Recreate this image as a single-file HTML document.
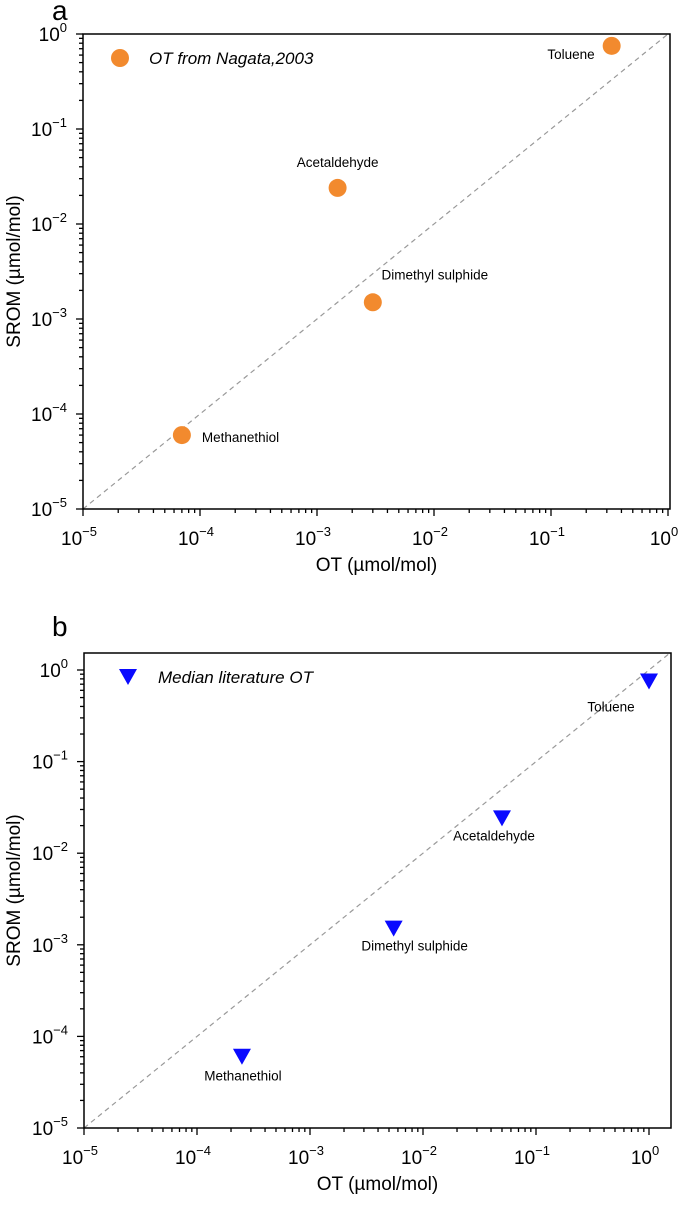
<!DOCTYPE html>
<html><head><meta charset="utf-8"><style>
html,body{margin:0;padding:0;background:#fff;}
svg{display:block;font-family:"Liberation Sans",Arial,sans-serif;}
</style></head><body>
<svg id="c" width="685" height="1208" xmlns="http://www.w3.org/2000/svg"></svg>
<script>
const compounds = ["Toluene","Acetaldehyde","Dimethyl sulphide","Methanethiol"];
const srom = [0.75, 0.024, 0.0015, 0.00006];
const otNagata = [0.33, 0.0015, 0.003, 0.00007];
const otMedian = [1.0, 0.05, 0.0055, 0.00025];
const tickExps = [-5,-4,-3,-2,-1,0];
// label offsets relative to marker [dx, dy, anchor]
const labA = [[-17,13,"end"],[0,-21,"middle"],[62,-23,"middle"],[20,7,"start"]];
const labB = [[-38,30,"middle"],[-8,22,"middle"],[21,22,"middle"],[1,24,"middle"]];

const svg = document.getElementById('c');
const NS = "http://www.w3.org/2000/svg";
function el(tag, attrs, parent){const e=document.createElementNS(NS,tag);for(const k in attrs)e.setAttribute(k,attrs[k]);(parent||svg).appendChild(e);return e;}

function panel(cfg){
  const g = el('g',{});
  
  
  const L=cfg.left, R=cfg.right, T=cfg.top, B=cfg.bottom;
  const x = v => cfg.x0 + (Math.log10(v)+5)*cfg.xd;
  const y = v => cfg.y0 - (Math.log10(v)+5)*cfg.yd;
  const d = el('line',{x1:x(1e-5),y1:y(1e-5),x2:x(cfg.maxv),y2:y(cfg.maxv),stroke:'#999','stroke-width':1.2,'stroke-dasharray':'5,4'},g);
  
  
  const f = el('rect',{x:L,y:T,width:R-L,height:B-T,fill:'none',stroke:'#000','stroke-width':1.5},g);
  
  
  for(let e=-5;e<=0;e++){
    for(let m=1;m<10;m++){
      const v=m*Math.pow(10,e);
      const major = m===1;
      const len = major?7:4;
      const px=x(v);
      if(px>=L-0.5 && px<=R+0.5) el('line',{x1:px,y1:B,x2:px,y2:B+len,stroke:'#000','stroke-width':1.3},g);
      const py=y(v);
      if(py<=B+0.5 && py>=T-0.5) el('line',{x1:L,y1:py,x2:L-len,y2:py,stroke:'#000','stroke-width':1.3},g);
    }
  }
  tickExps.forEach(e=>{
    const v=Math.pow(10,e);
    const tx = el('text',{x:x(v)-4,y:B+36,'font-size':19,'text-anchor':'middle'},g);
    
    
    tx.innerHTML='10<tspan dy="-9" font-size="13">'+(e<0?'\u2212'+(-e):e)+'</tspan>';
    const ty = el('text',{x:L-16,y:y(v)+7,'font-size':19,'text-anchor':'end'},g);
    
    
    ty.innerHTML='10<tspan dy="-9" font-size="13">'+(e<0?'\u2212'+(-e):e)+'</tspan>';
  });
  const xt = el('text',{x:(L+R)/2,y:B+62,'font-size':19,'text-anchor':'middle'},g);
  xt.textContent='OT (\u00b5mol/mol)';
  
  
  const yt = el('text',{x:0,y:0,'font-size':19,'text-anchor':'middle',transform:`translate(20,${(T+B)/2}) rotate(-90)`},g);
  yt.textContent='SROM (\u00b5mol/mol)';
  
  
  const pl = el('text',{x:cfg.letterX,y:cfg.letterY,'font-size':28},g);
  pl.textContent=cfg.letter;
  
  
  compounds.forEach((c,i)=>{
    const px=x(cfg.xs[i]), py=y(srom[i]);
    let m;
    if(cfg.marker==='circle') m=el('circle',{cx:px,cy:py,r:9,fill:'#f28a2e'},g);
    else m=el('polygon',{points:`${px-9},${py-8} ${px+9},${py-8} ${px},${py+8}`,fill:'#0a0aff'},g);
    
    
    const o=cfg.labs[i];
    const t=el('text',{x:px+o[0],y:py+o[1],'font-size':13.5,'text-anchor':o[2]},g);
    t.textContent=c;
    
    
  });
  let lm;
  if(cfg.marker==='circle') lm=el('circle',{cx:L+37,cy:T+24,r:9,fill:'#f28a2e'},g);
  else {const lx=L+44,ly=T+24; lm=el('polygon',{points:`${lx-9},${ly-8} ${lx+9},${ly-8} ${lx},${ly+8}`,fill:'#0a0aff'},g);}
  
  
  const lt=el('text',{x:L+cfg.legX,y:T+30,'font-size':17,'font-style':'italic'},g);
  lt.textContent=cfg.legend;
  
  
}

panel({name:'panel-a',left:83,right:670,top:34,bottom:509,x0:83,xd:117,y0:509,yd:95,maxv:1,
  xs:otNagata,marker:'circle',labs:labA,legend:'OT from Nagata,2003',legX:66,letter:'a',letterX:52,letterY:20});
panel({name:'panel-b',left:84,right:671,top:653,bottom:1128,x0:84,xd:113,y0:1128,yd:91.6,maxv:1.55,
  xs:otMedian,marker:'triangle',labs:labB,legend:'Median literature OT',legX:74,letter:'b',letterX:52,letterY:636});
</script>
</body></html>
